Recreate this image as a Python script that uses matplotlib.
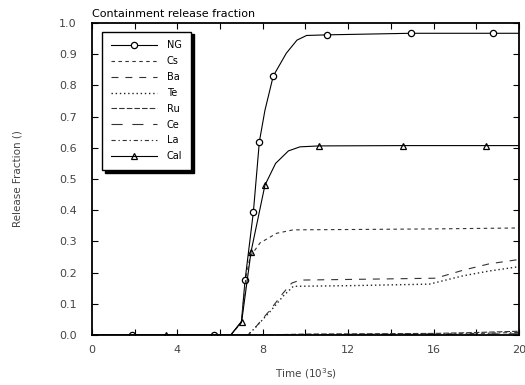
import numpy as np
import matplotlib
matplotlib.use("Agg")
import matplotlib.pyplot as plt
from matplotlib.ticker import MultipleLocator

# values (time in 10^3 s, release fraction)
ng_x = [0, 1.86, 5.73, 6.5, 7.0, 7.17, 7.56, 7.84, 8.1, 8.49, 9.1, 9.6, 10.05, 11.02, 14.94, 18.78, 20]
ng_y = [0, 0, 0, 0, 0.043, 0.176, 0.395, 0.62, 0.72, 0.83, 0.903, 0.945, 0.960, 0.962, 0.967, 0.967, 0.967]

cs_x = [0, 6.5, 7.0, 7.2, 7.4, 7.87, 8.65, 9.43, 12, 16, 20]
cs_y = [0, 0, 0.04, 0.18, 0.25, 0.295, 0.326, 0.337, 0.338, 0.340, 0.343]

ba_x = [0, 7.3, 7.6, 8.34, 8.96, 9.35, 9.74, 12, 16.1, 17.4, 18.6, 20]
ba_y = [0, 0, 0.02, 0.08, 0.135, 0.166, 0.176, 0.178, 0.182, 0.208, 0.228, 0.242]

te_x = [0, 7.3, 7.6, 8.34, 8.96, 9.43, 12, 15.8, 17.4, 18.6, 20]
te_y = [0, 0, 0.02, 0.075, 0.125, 0.156, 0.158, 0.163, 0.19, 0.205, 0.219]

ru_x = [0, 8, 10, 16, 18, 20]
ru_y = [0, 0, 0.003, 0.005, 0.008, 0.012]

ce_x = [0, 8, 12, 16, 20]
ce_y = [0, 0, 0.001, 0.002, 0.004]

la_x = [0, 8, 12, 16, 18, 20]
la_y = [0, 0, 0.002, 0.003, 0.005, 0.008]

cal_x = [0, 3.47, 6.5, 7.01, 7.45, 8.1, 8.6, 9.2, 9.74, 10.63, 14.57, 18.45, 20]
cal_y = [0, 0, 0, 0.043, 0.267, 0.48, 0.55, 0.59, 0.603, 0.606, 0.607, 0.607, 0.607]

plt.rcParams['lines.scale_dashes'] = False
plt.rcParams['font.family'] = 'DejaVu Sans'

fig = plt.figure(figsize=(5.25, 3.85), dpi=100)
ax = fig.add_axes([0.1752, 0.1299, 0.8134, 0.8104])

lw = 0.8
ax.plot(ng_x, ng_y, color='k', lw=lw, marker='o', ms=4.5, mfc='white', mew=0.9,
        markevery=[1, 2, 5, 6, 7, 9, 13, 14, 15], label='NG')
ax.plot(cs_x, cs_y, color='#333333', lw=lw, ls=(0, (2.5, 2.5)), label='Cs')
ax.plot(ba_x, ba_y, color='#333333', lw=lw, ls=(0, (5, 5)), label='Ba')
ax.plot(te_x, te_y, color='#222222', lw=1.0, ls=(0, (1, 2)), label='Te')
ax.plot(ru_x, ru_y, color='#333333', lw=lw, ls=(0, (4, 1.5)), label='Ru')
ax.plot(ce_x, ce_y, color='#333333', lw=lw, ls=(0, (8, 7)), label='Ce')
ax.plot(la_x, la_y, color='#333333', lw=lw, ls=(0, (3, 2, 1, 2)), label='La')
ax.plot(cal_x, cal_y, color='k', lw=lw, marker='^', ms=4, mfc='none', mew=0.9,
        markevery=[1, 3, 4, 5, 9, 10, 11], label='Cal')

ax.set_xlim(0, 20)
ax.set_ylim(0, 1.0)
ax.xaxis.set_major_locator(MultipleLocator(4))
ax.xaxis.set_minor_locator(MultipleLocator(2))
ax.yaxis.set_major_locator(MultipleLocator(0.1))
ax.yaxis.set_major_formatter(plt.FormatStrFormatter('%.1f'))
ax.tick_params(which='both', direction='in', top=True, right=True,
               labelsize=8, labelcolor='#444444', length=4, width=0.8)
ax.tick_params(axis='y', pad=11)
ax.tick_params(axis='x', pad=7)
for s in ax.spines.values():
    s.set_linewidth(1.3)

ax.set_xlabel('Time (10$^3$s)', fontsize=7.5, color='#444444', labelpad=8)
ax.set_ylabel('Release Fraction ()', fontsize=7.5, color='#444444', labelpad=26)
ax.set_title('Containment release fraction', loc='left', fontsize=8, pad=4)

leg = ax.legend(loc='upper left', bbox_to_anchor=(0.023, 0.972), borderaxespad=0,
                fontsize=7, labelspacing=0.6, handlelength=4.8, handletextpad=1.0,
                borderpad=0.9, numpoints=1, fancybox=False,
                shadow={'color': 'k', 'alpha': 1})
leg.get_frame().set_edgecolor('k')
leg.get_frame().set_linewidth(1.0)

fig.savefig('out.png', dpi=100)
